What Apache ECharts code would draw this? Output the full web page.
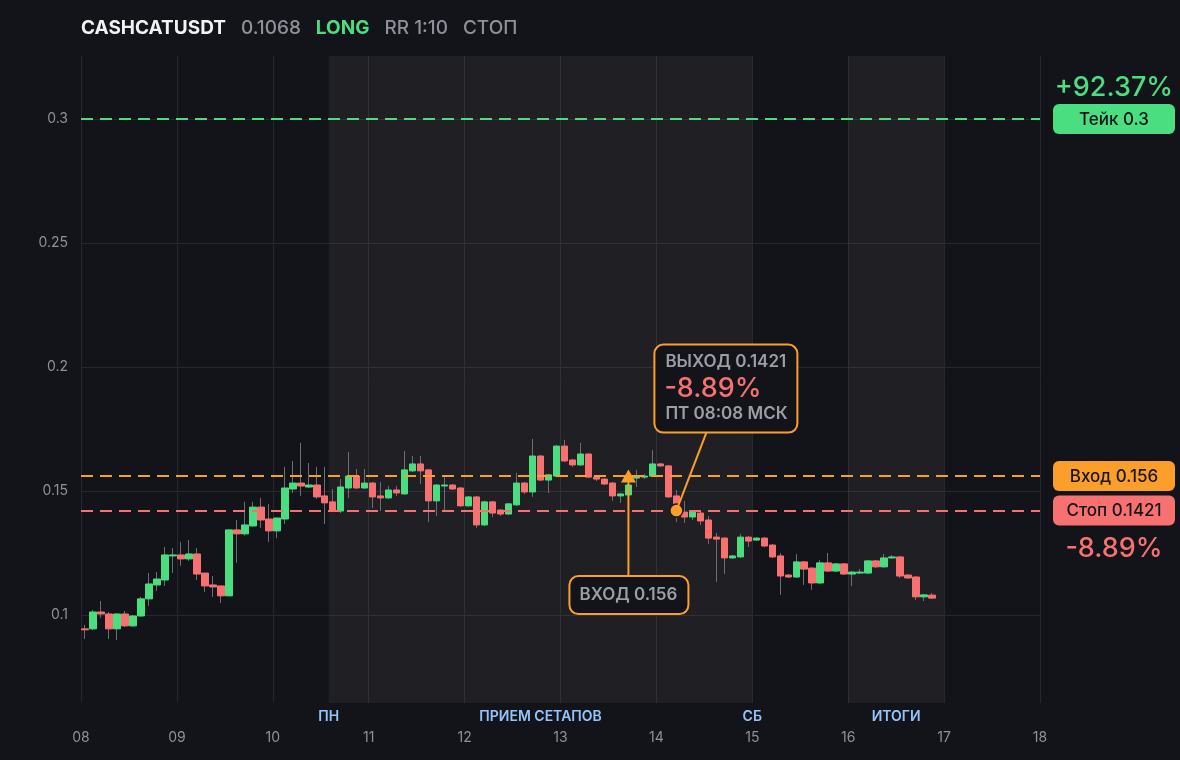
<!DOCTYPE html>
<html><head><meta charset="utf-8">
<script src="https://cdn.jsdelivr.net/npm/echarts@6/dist/echarts.min.js"></script>
<style>html,body{margin:0;padding:0;background:#131419;}#c{width:1180px;height:760px;}</style>
</head><body><div id="c"></div><script>
// ---- data ----
const dayLabels = ['08','09','10','11','12','13','14','15','16','17','18'];
const yTickValues = [0.1, 0.15, 0.2, 0.25, 0.3];
// 2-hour candles starting on day 08 00:00 (x in hours from day 08 00:00, candle centre)
const opens = [0.0944,0.0944,0.1012,0.1004,0.0944,0.1004,0.0956,0.0996,0.1065,0.1121,0.1141,0.1238,0.1242,0.1226,0.1246,0.1169,0.1121,0.1117,0.1077,0.1343,
0.1327,0.1359,0.1435,0.1387,0.1339,0.1387,0.1508,0.1532,0.1516,0.1524,0.1480,0.1456,0.1419,0.1512,0.1560,0.1512,0.1532,0.1480,0.1472,0.1504,
0.1488,0.1581,0.1609,0.1585,0.1460,0.1520,0.1524,0.1512,0.1440,0.1476,0.1363,0.1456,0.1423,0.1407,0.1444,0.1532,0.1496,0.1641,0.1544,0.1560,
0.1681,0.1625,0.1605,0.1649,0.1556,0.1548,0.1532,0.1480,0.1484,0.1552,0.1556,0.1560,0.1609,0.1601,0.1480,0.1415,0.1395,0.1411,0.1383,0.1314,
0.1310,0.1230,0.1234,0.1314,0.1302,0.1310,0.1282,0.1238,0.1161,0.1153,0.1214,0.1189,0.1129,0.1210,0.1177,0.1206,0.1165,0.1169,0.1169,0.1218,
0.1194,0.1230,0.1234,0.1161,0.1153,0.1073,0.1080];
const closes = [0.0940,0.1012,0.1004,0.0944,0.1004,0.0956,0.0996,0.1065,0.1125,0.1145,0.1242,0.1242,0.1226,0.1246,0.1165,0.1117,0.1113,0.1077,0.1343,0.1327,
0.1363,0.1435,0.1383,0.1339,0.1391,0.1512,0.1532,0.1520,0.1524,0.1476,0.1452,0.1419,0.1516,0.1560,0.1512,0.1532,0.1476,0.1472,0.1504,0.1492,
0.1585,0.1609,0.1581,0.1460,0.1524,0.1524,0.1508,0.1440,0.1476,0.1363,0.1456,0.1411,0.1407,0.1448,0.1532,0.1496,0.1641,0.1544,0.1565,0.1681,
0.1621,0.1605,0.1649,0.1556,0.1548,0.1528,0.1480,0.1488,0.1524,0.1556,0.1560,0.1609,0.1601,0.1476,0.1444,0.1395,0.1415,0.1379,0.1310,0.1306,
0.1230,0.1238,0.1314,0.1298,0.1310,0.1278,0.1234,0.1157,0.1153,0.1214,0.1185,0.1129,0.1210,0.1177,0.1206,0.1165,0.1173,0.1173,0.1218,0.1194,
0.1230,0.1234,0.1157,0.1149,0.1073,0.1081,0.1068];
const lows = [0.0903,0.0938,0.0988,0.0903,0.0899,0.0952,0.0952,0.0992,0.1036,0.1097,0.1117,0.1169,0.1198,0.1218,0.1141,0.1093,0.1073,0.1048,0.1077,0.1210,
0.1320,0.1355,0.1351,0.1294,0.1310,0.1367,0.1492,0.1480,0.1512,0.1468,0.1367,0.1415,0.1411,0.1472,0.1508,0.1508,0.1431,0.1419,0.1468,0.1480,
0.1484,0.1577,0.1528,0.1375,0.1399,0.1423,0.1504,0.1436,0.1436,0.1351,0.1359,0.1395,0.1399,0.1403,0.1440,0.1488,0.1476,0.1540,0.1492,0.1556,
0.1617,0.1597,0.1601,0.1552,0.1540,0.1524,0.1460,0.1452,0.1480,0.1516,0.1548,0.1556,0.1597,0.1472,0.1375,0.1371,0.1383,0.1363,0.1286,0.1133,
0.1165,0.1226,0.1230,0.1274,0.1298,0.1274,0.1230,0.1081,0.1149,0.1149,0.1121,0.1101,0.1125,0.1173,0.1173,0.1161,0.1117,0.1165,0.1165,0.1190,
0.1190,0.1226,0.1149,0.1145,0.1060,0.1056,0.1064];
const highs = [0.0960,0.1020,0.1056,0.1012,0.1008,0.1016,0.1000,0.1073,0.1169,0.1173,0.1274,0.1270,0.1294,0.1302,0.1270,0.1169,0.1157,0.1117,0.1343,0.1383,
0.1456,0.1456,0.1472,0.1448,0.1391,0.1597,0.1621,0.1694,0.1613,0.1597,0.1597,0.1508,0.1548,0.1657,0.1589,0.1589,0.1536,0.1536,0.1520,0.1520,
0.1661,0.1641,0.1641,0.1589,0.1528,0.1556,0.1528,0.1516,0.1480,0.1480,0.1460,0.1460,0.1427,0.1452,0.1573,0.1536,0.1710,0.1645,0.1569,0.1685,
0.1706,0.1629,0.1694,0.1653,0.1560,0.1552,0.1536,0.1492,0.1581,0.1585,0.1569,0.1665,0.1613,0.1605,0.1504,0.1460,0.1423,0.1415,0.1399,0.1331,
0.1314,0.1242,0.1327,0.1318,0.1314,0.1314,0.1286,0.1250,0.1165,0.1246,0.1218,0.1193,0.1222,0.1250,0.1210,0.1210,0.1177,0.1185,0.1222,0.1222,
0.1246,0.1242,0.1238,0.1165,0.1157,0.1085,0.1089];
const takePrice = 0.3, entryPrice = 0.156, stopPrice = 0.1421, exitPrice = 0.1421;
const takePct = '+92.37%', stopPct = '-8.89%';
const entryCandle = 68, exitCandle = 74;
const sessionBands = [[62, 168], [192, 216]];
const sessionLabels = [['ПН', 62], ['ПРИЕМ СЕТАПОВ', 115], ['СБ', 168], ['ИТОГИ', 204]];

// ---- styles ----
const BG = '#131419', GREEN = '#4ade80', RED = '#f87171', ORANGE = '#fb9f2a', GRAY = '#8e9199', WICK = '#6b6e76', GRID = '#26282e';
const FONT = 'Inter, "Noto Sans", sans-serif';
const candleHour = i => i * 2 + 1;
const wickData = opens.map((o, i) => [candleHour(i), o, closes[i], lows[i], highs[i]]);
const bodyData = opens.map((o, i) => [candleHour(i), o, closes[i], Math.min(o, closes[i]), Math.max(o, closes[i])]);

const chart = echarts.init(document.getElementById('c'), null, { renderer: 'canvas' });
const option = {
  backgroundColor: BG,
  animation: false,
  textStyle: { fontFamily: FONT },
  grid: { left: 81, right: 140, top: 56, bottom: 57, containLabel: false },
  xAxis: {
    type: 'value', min: 0, max: 240, interval: 24,
    axisLine: { show: false }, axisTick: { show: false },
    splitLine: { show: true, lineStyle: { color: GRID, width: 1 } },
    axisLabel: { color: GRAY, fontSize: 14, fontFamily: FONT, margin: 28,
      formatter: v => dayLabels[Math.round(v / 24)] }
  },
  yAxis: {
    type: 'value', min: 0.0645, max: 0.3254, scale: true,
    axisLine: { show: false },
    axisTick: { show: false, customValues: yTickValues },
    splitLine: { show: true, lineStyle: { color: GRID, width: 1 } },
    axisLabel: { color: GRAY, fontSize: 14, fontFamily: FONT, margin: 13, customValues: yTickValues,
      formatter: v => String(+v.toFixed(4)) }
  },
  series: [
    {
      type: 'candlestick', name: 'wicks', data: wickData, barWidth: 1, z: 2,
      itemStyle: { color: WICK, color0: WICK, borderColor: WICK, borderColor0: WICK, borderWidth: 1 },
      markArea: {
        silent: true,
        itemStyle: { color: 'rgba(255,255,255,0.05)' },
        data: sessionBands.map(b => [{ xAxis: b[0] }, { xAxis: b[1] }])
      }
    },
    {
      type: 'candlestick', name: 'bodies', data: bodyData, barWidth: 7, z: 3,
      itemStyle: { color: GREEN, color0: RED, borderColor: GREEN, borderColor0: RED, borderWidth: 1 },
      markLine: {
        silent: true, symbol: 'none', z: 6, precision: 6,
        label: { show: false },
        data: [
          { yAxis: takePrice, lineStyle: { color: GREEN, type: [12, 7], width: 2 } },
          { yAxis: entryPrice, lineStyle: { color: ORANGE, type: [12, 7], width: 2 } },
          { yAxis: stopPrice, lineStyle: { color: RED, type: [12, 7], width: 2 } }
        ]
      },
      markPoint: {
        silent: true, z: 10,
        label: { show: false },
        data: [
          { coord: [candleHour(entryCandle), entryPrice], symbol: 'triangle', symbolSize: [15, 13],
            itemStyle: { color: ORANGE } },
          { coord: [candleHour(exitCandle), exitPrice], symbol: 'circle', symbolSize: 13,
            itemStyle: { color: ORANGE, borderColor: '#1b1c20', borderWidth: 1.5 } }
        ]
      }
    }
  ]
};
chart.setOption(option);

function px(x, y) { return chart.convertToPixel({ gridIndex: 0 }, [x, y]); }
const gridRight = px(240, 0.2)[0];
const boxX = gridRight + 13, boxW = 122, boxH = 30;
function priceBox(price, text, color) {
  const y = px(0, price)[1];
  return [
    { type: 'rect', shape: { x: boxX, y: y - boxH / 2, width: boxW, height: boxH, r: 6 }, style: { fill: color }, z: 20 },
    { type: 'text', x: boxX + boxW / 2, y: y + 0.5, z: 21,
      style: { text: text, fill: '#15161b', font: '500 17px ' + FONT, align: 'center', verticalAlign: 'middle' } }
  ];
}
const g = [];
// title
g.push({ type: 'text', left: 81, top: 19, z: 30, style: {
  text: '{a|CASHCATUSDT}{b|0.1068}{c|LONG}{b|RR 1:10}{b|СТОП}',
  rich: {
    a: { fontSize: 19, fontWeight: 700, fill: '#f1f2f4', fontFamily: FONT },
    b: { fontSize: 19, fontWeight: 500, fill: GRAY, fontFamily: FONT, padding: [0, 0, 0, 15] },
    c: { fontSize: 19, fontWeight: 700, fill: GREEN, fontFamily: FONT, padding: [0, 0, 0, 15] }
  } } });
// right side price boxes
const takeY = px(0, takePrice)[1], stopY = px(0, stopPrice)[1];
g.push(...priceBox(takePrice, 'Тейк ' + takePrice, GREEN));
g.push(...priceBox(entryPrice, 'Вход ' + entryPrice, ORANGE));
g.push(...priceBox(stopPrice, 'Стоп ' + stopPrice, RED));
g.push({ type: 'text', x: boxX + boxW / 2, y: takeY - 31, z: 21,
  style: { text: takePct, fill: GREEN, font: '500 27px ' + FONT, align: 'center', verticalAlign: 'middle' } });
g.push({ type: 'text', x: boxX + boxW / 2, y: stopY + 38, z: 21,
  style: { text: stopPct, fill: RED, font: '500 27px ' + FONT, align: 'center', verticalAlign: 'middle' } });
// session labels
const axisBottom = px(0, 0.0645)[1];
sessionLabels.forEach(([t, h]) => {
  g.push({ type: 'text', x: px(h, 0.1)[0], y: axisBottom + 14, z: 21,
    style: { text: t, fill: '#93c5fd', font: '600 14px ' + FONT, align: 'center', verticalAlign: 'middle' } });
});
// entry annotation
const ep = px(candleHour(entryCandle), entryPrice);
const entryBox = { x: ep[0] - 59, y: ep[1] + 100, w: 119, h: 38 };
g.push({ type: 'line', z: 15, shape: { x1: ep[0], y1: ep[1] + 6, x2: ep[0], y2: entryBox.y }, style: { stroke: ORANGE, lineWidth: 2 } });
g.push({ type: 'rect', z: 16, shape: { x: entryBox.x, y: entryBox.y, width: entryBox.w, height: entryBox.h, r: 9 },
  style: { fill: BG, stroke: ORANGE, lineWidth: 2 } });
g.push({ type: 'text', z: 17, x: ep[0], y: entryBox.y + entryBox.h / 2,
  style: { text: 'ВХОД ' + entryPrice, fill: '#9b9ea6', font: '600 17px ' + FONT, align: 'center', verticalAlign: 'middle' } });
// exit annotation
const xp = px(candleHour(exitCandle), exitPrice);
const exitBox = { x: xp[0] - 22, y: xp[1] - 166, w: 143, h: 88 };
g.push({ type: 'line', z: 15, shape: { x1: xp[0], y1: xp[1], x2: xp[0] + 30, y2: exitBox.y + exitBox.h }, style: { stroke: ORANGE, lineWidth: 2 } });
g.push({ type: 'rect', z: 16, shape: { x: exitBox.x, y: exitBox.y, width: exitBox.w, height: exitBox.h, r: 9 },
  style: { fill: BG, stroke: ORANGE, lineWidth: 2 } });
g.push({ type: 'text', z: 17, x: exitBox.x + 11, y: exitBox.y + 17,
  style: { text: 'ВЫХОД ' + exitPrice, fill: '#9b9ea6', font: '600 17px ' + FONT, align: 'left', verticalAlign: 'middle' } });
g.push({ type: 'text', z: 17, x: exitBox.x + 10, y: exitBox.y + 44,
  style: { text: stopPct, fill: RED, font: '500 27px ' + FONT, align: 'left', verticalAlign: 'middle' } });
g.push({ type: 'text', z: 17, x: exitBox.x + 11, y: exitBox.y + 69,
  style: { text: 'ПТ 08:08 МСК', fill: '#9b9ea6', font: '600 17px ' + FONT, align: 'left', verticalAlign: 'middle' } });
chart.setOption({ graphic: g });
</script></body></html>
